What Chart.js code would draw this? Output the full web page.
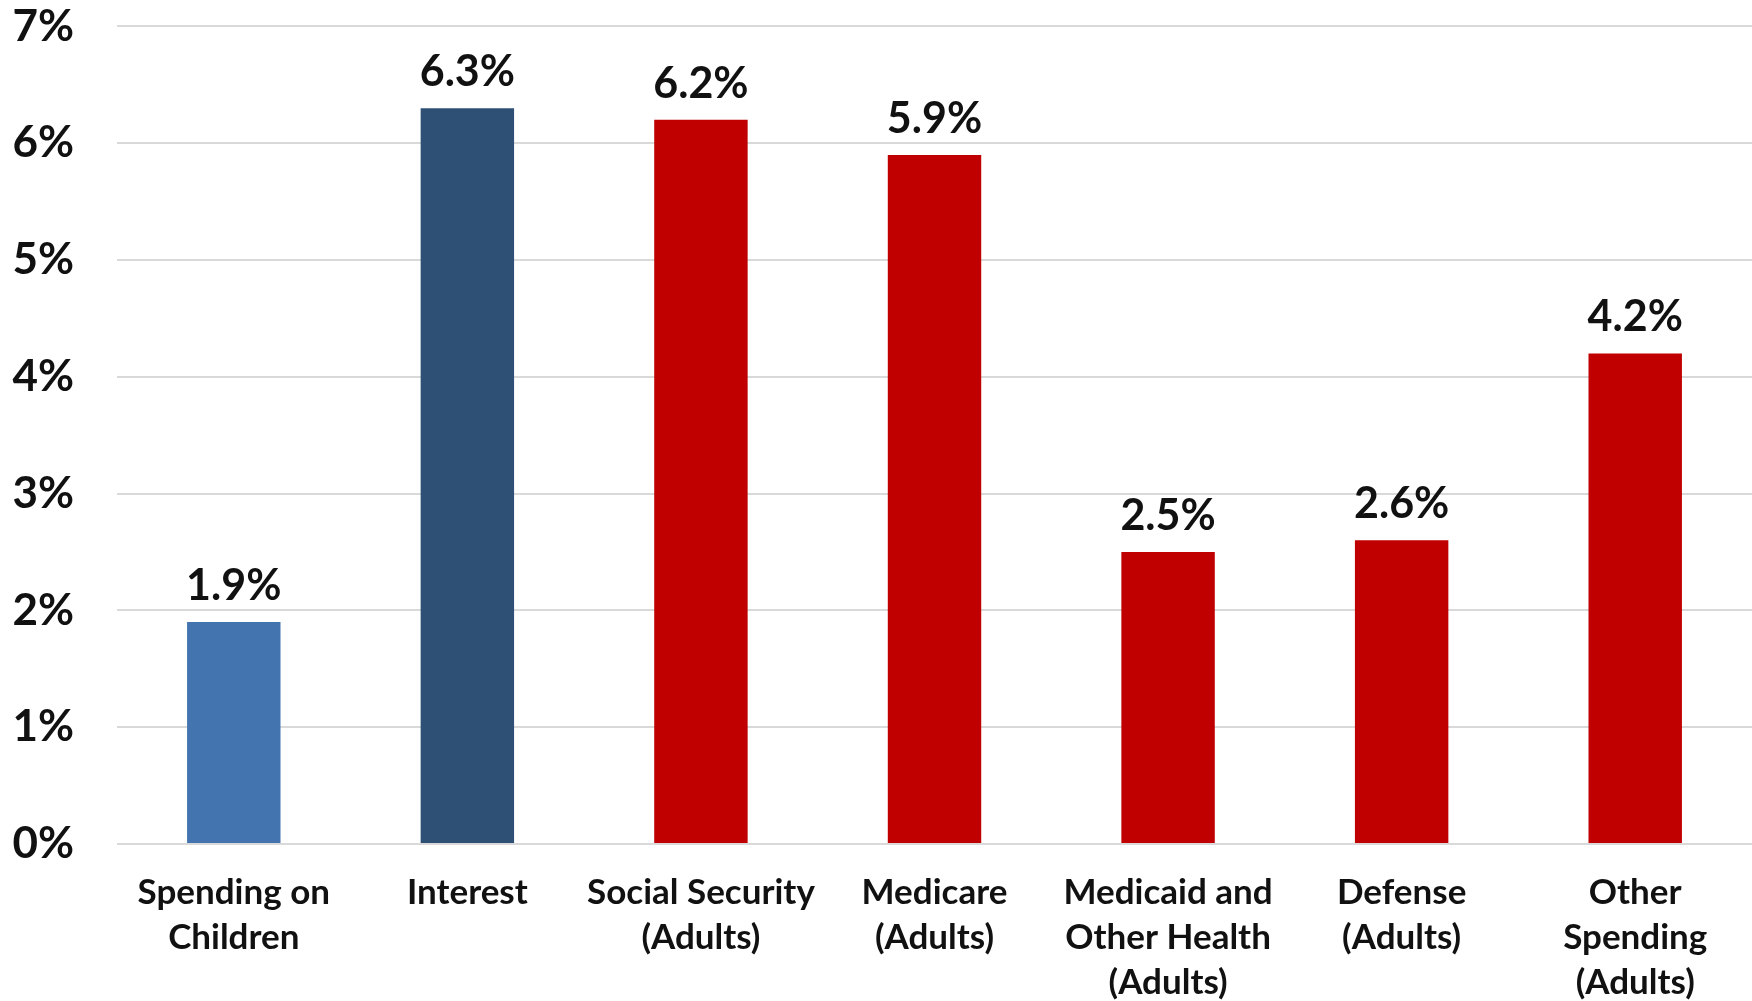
<!DOCTYPE html>
<html>
<head>
<meta charset="utf-8">
<script src="https://cdn.jsdelivr.net/npm/chart.js@4/dist/chart.umd.min.js"></script>
<style>
  html, body { margin: 0; padding: 0; background: #fff; }
  #wrap { width: 1752px; height: 1001px; }
</style>
</head>
<body>
<div id="wrap"><canvas id="myChart" width="1752" height="1001"></canvas></div>
<script>
var categories = [
    ["Spending on", "Children"],
    ["Interest"],
    ["Social Security", "(Adults)"],
    ["Medicare", "(Adults)"],
    ["Medicaid and", "Other Health", "(Adults)"],
    ["Defense", "(Adults)"],
    ["Other", "Spending", "(Adults)"]
];
var values = [1.9, 6.3, 6.2, 5.9, 2.5, 2.6, 4.2];
var barColors = ["#4474B0", "#2E5075", "#C00000", "#C00000", "#C00000", "#C00000", "#C00000"];
var yTicks = [0, 1, 2, 3, 4, 5, 6, 7];

var fontFamily = "Lato, 'Open Sans', sans-serif";

// draws the "6.3%" labels on top of each bar
var valueLabels = {
    id: 'valueLabels',
    afterDatasetsDraw: function (chart) {
        var ctx = chart.ctx;
        var meta = chart.getDatasetMeta(0);
        ctx.save();
        ctx.font = "bold 43px " + fontFamily;
        ctx.fillStyle = "#111";
        ctx.textAlign = "center";
        ctx.textBaseline = "alphabetic";
        meta.data.forEach(function (bar, i) {
            ctx.fillText(values[i].toFixed(1) + "%", bar.x, bar.y - 22);
        });
        ctx.restore();
    }
};

new Chart(document.getElementById('myChart'), {
    type: 'bar',
    data: {
        labels: categories,
        datasets: [{
            data: values,
            backgroundColor: barColors,
            barPercentage: 0.4,
            categoryPercentage: 1.0
        }]
    },
    options: {
        responsive: false,
        animation: false,
        layout: { padding: { top: 26, left: 0, right: 0, bottom: 0 } },
        plugins: {
            legend: { display: false },
            tooltip: { enabled: false }
        },
        scales: {
            x: {
                grid: { display: false, drawTicks: false },
                border: { display: false },
                ticks: {
                    color: "#111",
                    font: { family: fontFamily, size: 35, weight: 'bold', lineHeight: 1.29 },
                    padding: 26,
                    maxRotation: 0,
                    autoSkip: false
                },
                afterFit: function (axis) { axis.height = 157; }
            },
            y: {
                min: 0,
                max: 7,
                afterBuildTicks: function (axis) {
                    axis.ticks = yTicks.map(function (v) { return { value: v }; });
                },
                // invisible tick marks push the labels left without adding top padding
                grid: { color: "#D9D9D9", lineWidth: 2, drawTicks: true, tickLength: 43, tickColor: "rgba(0,0,0,0)" },
                border: { display: false },
                ticks: {
                    color: "#111",
                    font: { family: fontFamily, size: 44, weight: 'bold' },
                    padding: 0,
                    callback: function (v) { return v + "%"; }
                },
                afterFit: function (axis) { axis.width = 117; }
            }
        }
    },
    plugins: [valueLabels]
});
</script>
</body>
</html>
